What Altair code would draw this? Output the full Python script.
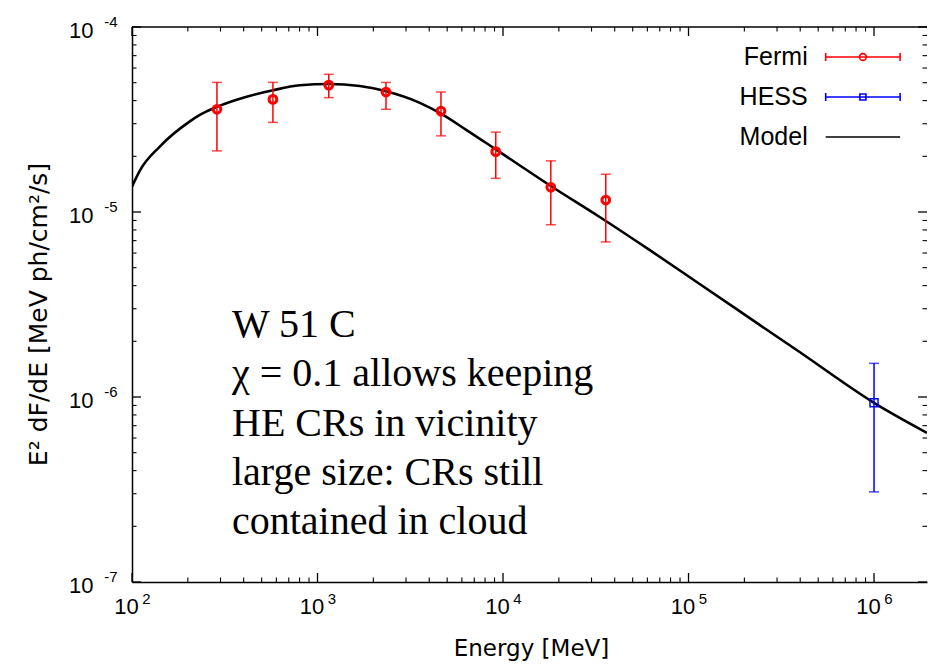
import altair as alt
import pandas as pd

# ---------------- data ----------------
model_E = [100, 110.4, 141.6, 205, 232, 287, 406, 575, 804, 1150, 1690, 2340,
           3560, 4630, 6300, 9140, 18000, 33200, 61600, 114800, 397000,
           1000000, 1930000]
model_F = [1.371e-5, 1.679e-5, 2.265e-5, 3.09e-5, 3.35e-5, 3.70e-5, 4.17e-5,
           4.55e-5, 4.84e-5, 4.92e-5, 4.80e-5, 4.49e-5, 3.89e-5, 3.40e-5,
           2.79e-5, 2.18e-5, 1.387e-5, 9.4e-6, 6.24e-6, 4.08e-6, 1.75e-6,
           9.3e-7, 6.4e-7]

fermi_E = [287, 575, 1150, 2340, 4630, 9140, 18100, 35800]
fermi_F = [3.59e-5, 4.06e-5, 4.85e-5, 4.45e-5, 3.51e-5, 2.12e-5, 1.36e-5, 1.16e-5]
fermi_hi = [5.02e-5, 5.02e-5, 5.55e-5, 5.02e-5, 4.45e-5, 2.70e-5, 1.89e-5, 1.60e-5]
fermi_lo = [2.14e-5, 3.05e-5, 4.15e-5, 3.59e-5, 2.58e-5, 1.52e-5, 8.53e-6, 6.89e-6]

hess_E = [1.0e6]
hess_F = [9.3e-7]
hess_hi = [1.52e-6]
hess_lo = [3.07e-7]

series = ["Fermi", "HESS", "Model"]
series_colors = ["#ff0000", "#0000ff", "#000000"]

x_major = [1e2, 1e3, 1e4, 1e5, 1e6]
x_minor = [m * 10 ** k for k in range(2, 7) for m in range(2, 10) if m * 10 ** k < 1.93e6]
y_major = [1e-7, 1e-6, 1e-5, 1e-4]
y_minor = [m * 10.0 ** k for k in range(-7, -4) for m in range(2, 10)]

annotation = ["W 51 C", "χ = 0.1 allows keeping", "HE CRs in vicinity",
              "large size: CRs still", "contained in cloud"]

x_title = "Energy [MeV]"
y_title = "E² dF/dE [MeV ph/cm²/s]"

# ---------------- layout ----------------
W, H = 795, 555
MAJ, MIN = 9, 4.5

# ---------------- tables ----------------
model_df = pd.DataFrame({"E": model_E, "F": model_F})
fermi_df = pd.DataFrame({"E": fermi_E, "F": fermi_F, "hi": fermi_hi, "lo": fermi_lo})
hess_df = pd.DataFrame({"E": hess_E, "F": hess_F, "hi": hess_hi, "lo": hess_lo})
legend_df = pd.DataFrame({"series": series})
xmaj_df = pd.DataFrame({"v": x_major})
xmin_df = pd.DataFrame({"v": x_minor})
ymaj_df = pd.DataFrame({"v": y_major})
ymin_df = pd.DataFrame({"v": y_minor})

xs = alt.Scale(type="log", domain=[100, 1.93e6], nice=False)
ys = alt.Scale(type="log", domain=[1e-7, 1e-4], nice=False)

common = dict(grid=False, labelFlush=False, labelOverlap=False,
              domainColor="black", tickColor="black", labelColor="black")
exp_expr = "'' + round(log(datum.value) / LN10)"

ax_x_lab = alt.Axis(orient="bottom", values=x_major, labelExpr="'10'", ticks=False, tickSize=0,
                    domain=True, domainWidth=1.5, labelFont="Liberation Sans", labelFontSize=22,
                    labelPadding=24, labelBaseline="middle", labelOffset=-6,
                    title=x_title, titleFont="DejaVu Sans", titleFontSize=23,
                    titleFontWeight="normal", titleX=399, titleY=66, titleBaseline="middle",
                    titleColor="black", **common)
ax_x_exp = alt.Axis(orient="bottom", values=x_major, labelExpr=exp_expr, ticks=False, tickSize=0,
                    domain=False, labelFont="Liberation Sans", labelFontSize=15,
                    labelPadding=16, labelBaseline="middle", labelOffset=14, title=None, **common)
ax_y_lab = alt.Axis(orient="left", values=y_major, labelExpr="'10'", ticks=False, tickSize=0,
                    domain=True, domainWidth=1.5, labelFont="Liberation Sans", labelFontSize=22,
                    labelPadding=39, labelBaseline="middle", labelAlign="right", labelOffset=3.5,
                    title=y_title, titleFont="DejaVu Sans", titleFontSize=25,
                    titleFontWeight="normal", titleX=-94, titleY=287, titleAngle=270,
                    titleBaseline="middle", titleAlign="center", titleColor="black", **common)
ax_y_exp = alt.Axis(orient="left", values=y_major, labelExpr=exp_expr, ticks=False, tickSize=0,
                    domain=False, labelFont="Liberation Sans", labelFontSize=15,
                    labelPadding=15, labelBaseline="middle", labelAlign="right",
                    labelOffset=-5.5, title=None, **common)


def X(ax, field="E"):
    return alt.X(f"{field}:Q", scale=xs, axis=ax)


def Y(ax, field="F"):
    return alt.Y(f"{field}:Q", scale=ys, axis=ax)


model = alt.Chart(model_df).mark_line(color="black", strokeWidth=2.6, clip=True,
                                      interpolate="monotone").encode(
    x=X(ax_x_lab), y=Y(ax_y_lab))

fermi_rule = alt.Chart(fermi_df).mark_rule(color="#ff0000", strokeWidth=1.5).encode(
    x=X(ax_x_exp), y=Y(ax_y_exp, "lo"), y2="hi:Q")
fermi_cap_lo = alt.Chart(fermi_df).mark_tick(color="#ff0000", orient="horizontal", size=10,
                                             thickness=1.5).encode(
    x=X(None), y=Y(None, "lo"))
fermi_cap_hi = alt.Chart(fermi_df).mark_tick(color="#ff0000", orient="horizontal", size=10,
                                             thickness=1.5).encode(
    x=X(None), y=Y(None, "hi"))
fermi_pt = alt.Chart(fermi_df).mark_point(shape="circle", filled=False, color="#ff0000",
                                          size=60, strokeWidth=3, opacity=1).encode(
    x=X(None), y=Y(None))

hess_rule = alt.Chart(hess_df).mark_rule(color="#0000ff", strokeWidth=1.5).encode(
    x=X(None), y=Y(None, "lo"), y2="hi:Q")
hess_cap_lo = alt.Chart(hess_df).mark_tick(color="#0000ff", orient="horizontal", size=10,
                                           thickness=1.5).encode(
    x=X(None), y=Y(None, "lo"))
hess_cap_hi = alt.Chart(hess_df).mark_tick(color="#0000ff", orient="horizontal", size=10,
                                           thickness=1.5).encode(
    x=X(None), y=Y(None, "hi"))
hess_pt = alt.Chart(hess_df).mark_point(shape="square", filled=False, color="#0000ff",
                                        size=64, strokeWidth=1.5, opacity=1).encode(
    x=X(None), y=Y(None))


# inward tick marks on all four sides (gnuplot style)
def xticks(df, y0, y1, w):
    return alt.Chart(df).mark_rule(color="black", strokeWidth=w).encode(
        x=alt.X("v:Q", scale=xs, axis=None), y=alt.value(y0), y2=alt.value(y1))


def yticks(df, x0, x1, w):
    return alt.Chart(df).mark_rule(color="black", strokeWidth=w).encode(
        y=alt.Y("v:Q", scale=ys, axis=None), x=alt.value(x0), x2=alt.value(x1))


tick_layers = [
    xticks(xmaj_df, H, H - MAJ, 1.3), xticks(xmin_df, H, H - MIN, 1.1),
    xticks(xmaj_df, 0, MAJ, 1.3), xticks(xmin_df, 0, MIN, 1.1),
    yticks(ymaj_df, 0, MAJ, 1.3), yticks(ymin_df, 0, MIN, 1.1),
    yticks(ymaj_df, W, W - MAJ, 1.3), yticks(ymin_df, W, W - MIN, 1.1),
]
top_frame = alt.Chart(pd.DataFrame({"k": [0]})).mark_rule(color="black", strokeWidth=1.5).encode(
    x=alt.value(0), x2=alt.value(W), y=alt.value(0))

# legend (gnuplot style: label left, sample right) -- samples drawn right of the label
shape_paths = [
    "M1.95,0H5.67M1.95,-0.2V0.2M5.67,-0.2V0.2M3.98,0A0.17,0.17 0 1 1 3.64,0A0.17,0.17 0 1 1 3.98,0Z",
    "M1.95,0H5.67M1.95,-0.2V0.2M5.67,-0.2V0.2M3.66,-0.15H3.96V0.15H3.66Z",
    "M1.95,0H5.67",
]
leg = alt.Legend(orient="none", legendX=633.7, legendY=9, title=None, labelAlign="right",
                 labelOffset=0, symbolOffset=0, symbolSize=1600, symbolStrokeWidth=1.6,
                 labelFontSize=25, labelFont="Liberation Sans", labelColor="black",
                 rowPadding=6, padding=0, symbolOpacity=1, labelLimit=300)
legend_layer = alt.Chart(legend_df).mark_point(filled=False, opacity=0).encode(
    color=alt.Color("series:N", scale=alt.Scale(domain=series, range=series_colors), legend=leg),
    shape=alt.Shape("series:N", scale=alt.Scale(domain=series, range=shape_paths), legend=leg),
)

text_layer = alt.Chart(pd.DataFrame({"k": [0]})).mark_text(
    text=annotation, font="Liberation Serif", fontSize=40, lineHeight=49.3,
    align="left", baseline="top", color="black").encode(
    x=alt.value(100), y=alt.value(278))

chart = alt.layer(
    model, fermi_rule, *tick_layers, top_frame,
    fermi_cap_lo, fermi_cap_hi, fermi_pt,
    hess_rule, hess_cap_lo, hess_cap_hi, hess_pt, legend_layer, text_layer
).resolve_axis(x="independent", y="independent").properties(
    width=W, height=H,
    autosize=alt.AutoSizeParams(type="none"),
    padding={"left": 132, "top": 27, "right": 1, "bottom": 80},
    background="white",
).configure_view(stroke=None).configure_axis(grid=False)

chart.save("out.html", embed_options={"renderer": "svg", "actions": False})
